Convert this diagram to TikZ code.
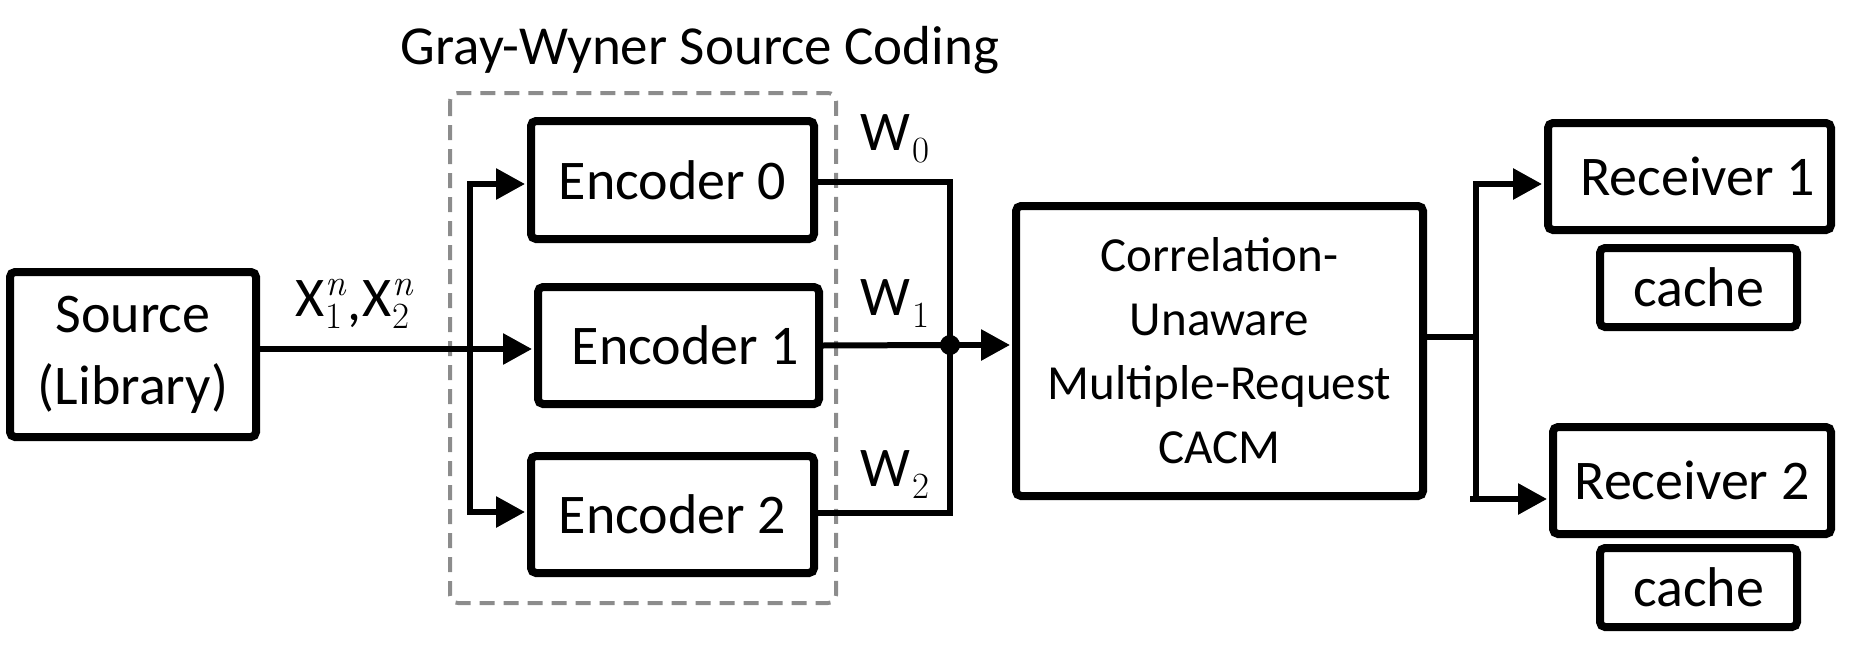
\documentclass[tikz,border=0pt]{standalone}
\usepackage{fontspec}
\setmainfont{Carlito}
\newfontfamily\lmr{Latin Modern Roman}
\newcommand\scr{\fontsize{37}{37}\lmr}
\newcommand\sbd[1]{\raisebox{-12pt}{\scr #1}}
\newcommand\sbsp[2]{\rlap{\raisebox{21pt}{\scr\itshape #2}}\raisebox{-12pt}{\scr #1}}
\usetikzlibrary{arrows.meta,calc}
\begin{document}
\begin{tikzpicture}[x=1pt,y=-1pt,
  box/.style={draw,line width=8pt,rounded corners=5pt,inner sep=0pt,align=center,
    font=\fontsize{56}{72}\selectfont},
  conn/.style={line width=6pt},
  arr/.style={line width=6pt,-{Triangle[length=29pt,width=30pt]},shorten >=2pt},
  lbl/.style={inner sep=0pt,anchor=base west,font=\fontsize{56}{60}\selectfont}]
\useasboundingbox (0,0) rectangle (1855,661);
% group
\draw[gray!90,line width=4pt,dash pattern=on 15pt off 9pt,rounded corners=8pt]
  (450,93) rectangle (836,603);
\node[inner sep=0pt,anchor=base,font=\fontsize{55}{60}\selectfont] (title) at (700,65) {Gray-Wyner Source Coding};
% nodes
\node[box,minimum width=246pt,minimum height=165pt] (src) at (133,354.5) {Source\\(Library)};
\node[box,minimum width=283pt,minimum height=118pt] (enc0) at (672.5,180) {Encoder 0};
\node[box,minimum width=281pt,minimum height=117pt] (enc1) at (678.5,345.5) {\hspace*{14pt}Encoder 1};
\node[box,minimum width=283pt,minimum height=117pt] (enc2) at (672.5,514.5) {Encoder 2};
\node[box,minimum width=407pt,minimum height=290pt,font=\fontsize{49}{64}\selectfont] (cacm) at (1219.5,351)
  {Correlation-\\Unaware\\Multiple-Request\\CACM};
\node[box,minimum width=283pt,minimum height=107pt] (rec1) at (1689.5,176.5) {\hspace*{16pt}Receiver 1};
\node[box,minimum width=197pt,minimum height=79pt] (cache1) at (1698.5,287.5) {cache};
\node[box,minimum width=278pt,minimum height=107pt] (rec2) at (1692,480.5) {Receiver 2};
\node[box,minimum width=197pt,minimum height=79pt] (cache2) at (1698.5,587.5) {cache};
% source to encoders
\coordinate (b0) at (470,184);
\coordinate (b2) at (470,512);
\draw[arr] (src.east |- 0,349) -- (enc1.west |- 0,349);
\draw[conn] (b0) -- (b2);
\draw[arr] ([xshift=-3pt]b0) -- (enc0.west |- b0);
\draw[arr] ([xshift=-3pt]b2) -- (enc2.west |- b2);
\node[inner sep=0pt,anchor=base,font=\fontsize{56}{60}\selectfont] (xlab) at (355,316)
  {X\sbsp{1}{n}\kern5pt\raisebox{-4pt}{,}\kern2pt X\sbsp{2}{n}\kern5pt};
% encoders to CACM
\coordinate (m0) at (950,182);
\coordinate (m2) at (950,513);
\coordinate (dot) at (950,345);
\draw[conn] (enc0.east |- m0) -- ([xshift=3pt]m0);
\draw[conn] (enc2.east |- m2) -- ([xshift=3pt]m2);
\draw[conn] ([yshift=-3pt]m0) -- ([yshift=3pt]m2);
\draw[conn] (enc1.east) -- (dot);
\fill (dot) circle (10pt);
\draw[arr] (dot) -- (cacm.west |- dot);
\node[lbl] (w0) at (860,150) {W\kern2pt\sbd{0}};
\node[lbl] (w1) at (860,315) {W\kern2pt\sbd{1}};
\node[lbl] (w2) at (860,486) {W\kern2pt\sbd{2}};
% CACM to receivers
\coordinate (s) at (1476,337);
\coordinate (r1) at (1476,184);
\coordinate (r2) at (1476,499);
\draw[conn] (cacm.east |- s) -- (s);
\draw[conn] ([yshift=-3pt]r1) -- ([yshift=3pt]r2);
\draw[arr] ([xshift=-3pt]r1) -- (rec1.west |- r1);
\draw[arr] ([xshift=-6pt]r2) -- (rec2.west |- r2);
\end{tikzpicture}
\end{document}
